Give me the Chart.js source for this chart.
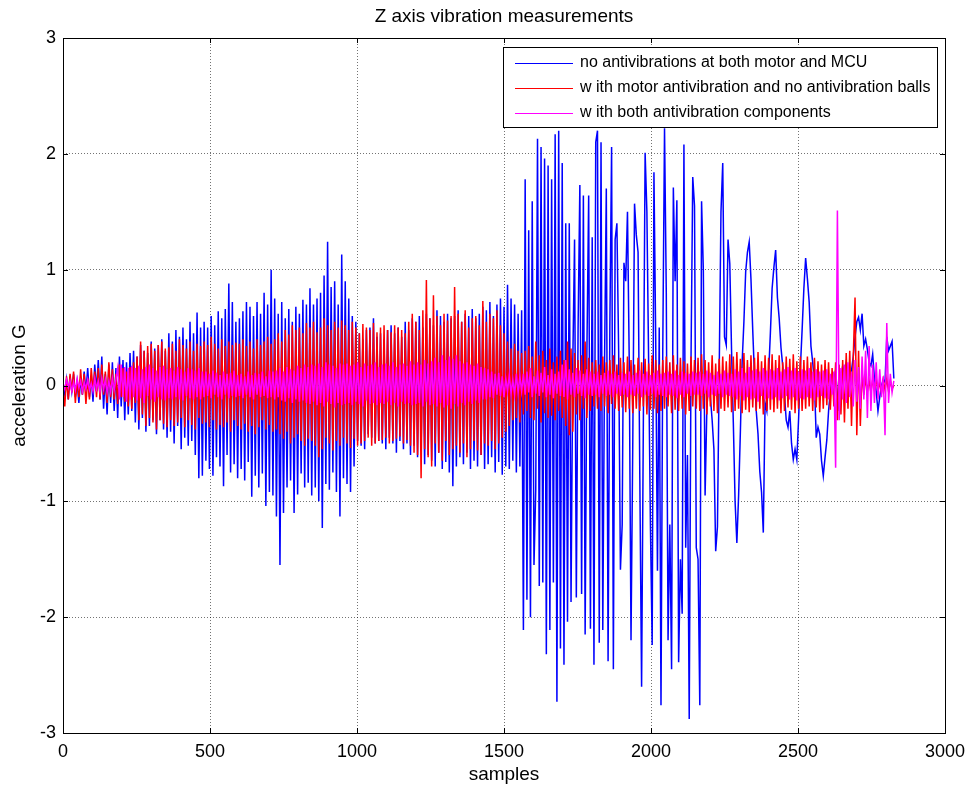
<!DOCTYPE html>
<html>
<head>
<meta charset="utf-8">
<title>Z axis vibration measurements</title>
<script src="https://cdn.jsdelivr.net/npm/chart.js@4.4.1/dist/chart.umd.min.js"></script>
<style>
  html, body { margin: 0; padding: 0; background: #fff; }
  #wrap { width: 971px; height: 787px; }
</style>
</head>
<body>
<div id="wrap"><canvas id="vib" width="971" height="787"></canvas></div>
<script>
// ── data: one value every SAMPLE_STEP samples ──
const SAMPLE_STEP = 6;

const X_TICKS = [0, 500, 1000, 1500, 2000, 2500, 3000];
const Y_TICKS = [-3, -2, -1, 0, 1, 2, 3];

const SERIES_LABELS = [
  'no antivibrations at both motor and MCU',
  'w ith motor antivibration and no antivibration balls',
  'w ith both antivibration components',
];

// no antivibrations at both motor and MCU
const blueG = [
  0.00,-0.08,0.05,-0.12,0.08,-0.05,0.10,-0.10,0.03,-0.15,0.06,-0.08,0.12,-0.06,0.15,-0.10,0.08,-0.14,0.18,-0.05,
  0.22,-0.12,0.25,-0.20,0.10,-0.25,0.18,-0.15,0.20,-0.22,0.15,-0.28,0.25,-0.18,0.22,-0.30,0.20,-0.25,0.28,-0.22,
  0.30,-0.32,0.25,-0.38,0.35,-0.28,0.30,-0.40,0.28,-0.35,0.38,-0.30,0.32,-0.42,0.35,-0.30,0.40,-0.38,0.30,-0.45,
  0.45,-0.40,0.38,-0.50,0.48,-0.35,0.42,-0.55,0.50,-0.45,0.40,-0.52,0.55,-0.48,0.45,-0.60,0.63,-0.80,0.50,-0.78,
  0.55,-0.65,0.50,-0.72,0.60,-0.78,0.52,-0.62,0.64,-0.70,0.58,-0.87,0.66,-0.60,0.88,-0.75,0.72,-0.68,0.55,-0.80,
  0.58,-0.72,0.64,-0.82,0.72,-0.66,0.68,-0.96,0.60,-0.78,0.72,-0.88,0.62,-0.76,0.80,-1.04,0.70,-0.92,1.00,-0.95,
  0.75,-1.13,0.62,-1.55,0.72,-1.10,0.58,-0.88,0.66,-0.82,0.55,-1.10,0.68,-0.94,0.62,-0.76,0.74,-0.88,0.70,-0.84,
  0.84,-0.95,0.70,-0.88,0.75,-1.00,0.80,-1.23,0.95,-0.85,1.24,-0.90,0.85,-0.75,0.90,-0.92,0.70,-1.13,1.13,-0.80,
  0.90,-0.85,0.75,-0.92,0.60,-0.70,0.55,-0.48,0.45,-0.52,0.40,-0.55,0.48,-0.42,0.50,-0.45,0.58,-0.50,0.42,-0.48,
  0.45,-0.50,0.40,-0.55,0.48,-0.45,0.52,-0.50,0.45,-0.58,0.50,-0.48,0.42,-0.55,0.55,-0.50,0.48,-0.60,0.58,-0.52,
  0.55,-0.62,0.60,-0.55,0.50,-0.68,0.62,-0.60,0.58,-0.65,0.52,-0.70,0.65,-0.58,0.60,-0.72,0.55,-0.66,0.62,-0.75,
  0.58,-0.87,0.60,-0.70,0.65,-0.62,0.55,-0.68,0.62,-0.58,0.60,-0.72,0.66,-0.65,0.58,-0.70,0.62,-0.60,0.68,-0.72,
  0.65,-0.68,0.72,-0.62,0.60,-0.75,0.70,-0.66,0.75,-0.77,0.68,-0.70,0.87,-0.72,0.75,-0.65,0.70,-0.75,0.62,-0.70,
  0.65,-2.11,1.78,-1.85,1.34,-2.00,1.59,-1.55,-0.90,2.13,-1.73,2.06,-1.70,1.96,-2.32,1.90,-2.11,1.78,-1.70,2.17,
  -2.73,2.20,-2.27,1.92,-2.41,1.40,-2.04,1.40,-1.87,0.20,1.26,-1.83,0.50,1.73,-1.80,1.64,-2.15,0.30,1.64,-2.10,
  1.28,-2.41,2.10,2.20,-2.22,2.10,-2.11,0.20,1.70,-2.38,0.50,2.06,-2.45,1.26,1.40,0.30,-1.59,-1.20,1.06,0.90,
  1.50,0.20,-2.20,-0.50,1.57,1.30,1.15,-0.80,-2.60,-0.30,2.01,1.50,0.20,-1.20,-2.24,1.84,0.40,-1.60,0.50,-2.76,
  0.30,2.22,0.80,-2.20,-1.20,-2.45,1.71,0.90,1.60,-2.39,-1.50,-1.97,2.08,-1.40,-0.60,-2.88,0.20,1.80,1.55,-1.40,
  -1.50,-2.76,1.59,1.00,-0.95,-0.20,0.05,-0.10,-0.30,-0.55,-1.43,-1.22,0.13,1.50,1.92,0.42,0.35,1.26,1.05,0.30,
  -0.32,-1.00,-1.36,-0.95,-0.40,0.20,0.55,0.98,1.15,1.24,0.92,0.48,0.08,-0.22,-0.42,-0.74,-0.92,-1.27,-0.15,-0.22,
  0.10,0.45,0.84,1.02,1.17,0.76,0.58,0.33,0.17,-0.08,-0.30,-0.36,-0.22,-0.50,-0.64,-0.55,-0.64,-0.29,0.15,0.48,
  0.84,1.10,0.92,0.72,0.34,0.20,0.02,-0.45,-0.36,-0.42,-0.65,-0.78,-0.62,-0.47,-0.22,-0.05,0.08,0.06,0.13,-0.10,
  -0.22,0.05,0.17,0.10,0.20,0.00,0.08,0.13,0.25,0.42,0.55,0.59,0.48,0.62,0.34,0.40,0.31,0.20,0.17,0.27,
  0.06,-0.05,-0.22,-0.10,0.00,0.05,0.03,0.42,0.30,0.34,0.38,0.06,
];

// with motor antivibration and no antivibration balls
const redG = [
  -0.05,-0.18,0.08,-0.12,0.10,-0.06,0.12,-0.15,0.05,-0.10,0.14,-0.08,0.10,-0.16,0.06,-0.12,0.15,-0.05,0.12,-0.10,
  0.15,-0.12,0.18,-0.08,0.12,-0.15,0.20,-0.10,0.14,-0.12,0.10,-0.16,0.18,-0.10,0.15,-0.14,0.12,-0.18,0.16,-0.20,
  0.20,-0.15,0.25,-0.30,0.38,-0.25,0.30,-0.35,0.34,-0.28,0.36,-0.32,0.30,-0.38,0.35,-0.30,0.38,-0.33,0.32,-0.36,
  0.33,-0.30,0.36,-0.35,0.30,-0.32,0.40,-0.28,0.35,-0.36,0.32,-0.30,0.38,-0.34,0.30,-0.38,0.36,-0.28,0.34,-0.33,
  0.38,-0.32,0.35,-0.36,0.42,-0.30,0.36,-0.38,0.32,-0.34,0.40,-0.36,0.34,-0.32,0.38,-0.40,0.35,-0.30,0.37,-0.35,
  0.36,-0.38,0.40,-0.33,0.34,-0.40,0.38,-0.35,0.32,-0.42,0.40,-0.36,0.35,-0.30,0.38,-0.38,0.42,-0.34,0.36,-0.40,
  0.40,-0.38,0.45,-0.42,0.38,-0.46,0.48,-0.40,0.44,-0.50,0.52,-0.45,0.48,-0.42,0.50,-0.48,0.45,-0.52,0.54,-0.46,
  0.50,-0.48,0.55,-0.52,0.46,-0.62,0.50,-0.55,0.58,-0.45,0.52,-0.50,0.48,-0.56,0.55,-0.48,0.50,-0.52,0.56,-0.45,
  0.52,-0.50,0.48,-0.54,0.55,-0.46,0.50,-0.52,0.45,-0.50,0.53,-0.48,0.50,-0.45,0.48,-0.52,0.54,-0.50,0.46,-0.48,
  0.50,-0.47,0.52,-0.45,0.48,-0.50,0.46,-0.48,0.52,-0.46,0.50,-0.44,0.48,-0.50,0.45,-0.47,0.55,-0.52,0.62,-0.58,
  0.55,-0.60,0.48,-0.80,0.65,-0.55,0.91,-0.62,0.58,-0.70,0.78,-0.50,0.60,-0.58,0.52,-0.65,0.62,-0.48,0.56,-0.60,
  0.60,-0.55,0.85,-0.52,0.62,-0.58,0.55,-0.50,0.65,-0.62,0.50,-0.55,0.58,-0.48,0.60,-0.56,0.52,-0.60,0.73,-0.50,
  0.55,-0.52,0.62,-0.48,0.58,-0.55,0.65,-0.50,0.52,-0.45,0.45,-0.40,0.38,-0.35,0.32,-0.30,0.36,-0.28,0.30,-0.32,
  0.28,-0.25,0.30,-0.22,0.34,-0.28,0.25,-0.30,0.38,-0.20,0.26,-0.32,0.30,-0.24,0.22,-0.28,0.32,-0.26,0.20,-0.30,
  0.25,-0.22,0.30,-0.28,0.22,-0.35,0.38,-0.43,0.32,-0.40,0.28,-0.25,0.22,-0.30,0.26,-0.20,0.38,-0.28,0.24,-0.22,
  0.20,-0.18,0.22,-0.20,0.18,-0.22,0.25,-0.18,0.20,-0.24,0.22,-0.16,0.26,-0.20,0.18,-0.22,0.24,-0.19,0.20,-0.23,
  0.25,-0.20,0.22,-0.24,0.18,-0.20,0.24,-0.22,0.20,-0.18,0.23,-0.25,0.19,-0.21,0.26,-0.20,0.22,-0.24,0.18,-0.22,
  0.22,-0.20,0.25,-0.18,0.20,-0.24,0.26,-0.21,0.18,-0.22,0.24,-0.20,0.21,-0.25,0.19,-0.22,0.25,-0.18,0.22,-0.20,
  0.24,-0.22,0.27,-0.20,0.22,-0.25,0.20,-0.18,0.26,-0.22,0.19,-0.24,0.23,-0.20,0.25,-0.22,0.21,-0.19,0.27,-0.23,
  0.25,-0.22,0.29,-0.20,0.23,-0.24,0.28,-0.21,0.22,-0.23,0.26,-0.19,0.24,-0.22,0.29,-0.20,0.21,-0.25,0.26,-0.22,
  0.24,-0.21,0.27,-0.23,0.22,-0.20,0.26,-0.24,0.20,-0.22,0.25,-0.19,0.23,-0.21,0.27,-0.24,0.21,-0.20,0.25,-0.22,
  0.22,-0.20,0.25,-0.18,0.20,-0.22,0.24,-0.19,0.21,-0.23,0.18,-0.20,0.22,-0.17,0.20,-0.21,0.15,-0.18,0.20,-0.30,
  0.18,-0.25,0.22,-0.32,0.28,-0.20,0.30,-0.35,0.25,0.76,-0.43,0.30,-0.35,0.12,-0.08,0.06,-0.05,0.04,-0.06,0.05,
  -0.04,0.06,-0.05,0.03,-0.06,0.05,-0.04,0.06,-0.05,0.04,-0.03,0.00,
];

// with both antivibration components
const magentaG = [
  0.02,-0.03,0.05,-0.02,0.04,-0.05,0.03,-0.04,0.06,-0.02,0.04,-0.05,0.03,-0.03,0.05,-0.04,0.02,-0.05,0.06,-0.03,
  0.04,-0.05,0.06,-0.03,0.05,-0.06,0.04,-0.05,0.06,-0.04,0.05,0.15,-0.12,0.18,-0.10,0.16,-0.14,0.15,-0.12,0.17,
  -0.10,0.15,-0.13,0.17,-0.11,0.14,-0.15,0.16,-0.09,0.18,-0.12,0.15,-0.14,0.13,-0.10,0.16,-0.12,0.17,-0.13,0.14,
  -0.11,0.15,-0.12,0.13,-0.10,0.16,-0.12,0.14,-0.13,0.12,-0.09,0.15,-0.11,0.14,-0.12,0.13,-0.10,0.15,-0.12,0.12,
  -0.10,0.12,-0.09,0.10,-0.11,0.13,-0.08,0.11,-0.10,0.09,-0.12,0.12,-0.08,0.10,-0.11,0.11,-0.09,0.13,-0.10,0.09,
  -0.09,0.10,-0.11,0.08,-0.08,0.12,-0.10,0.09,-0.12,0.11,-0.08,0.10,-0.10,0.12,-0.09,0.08,-0.11,0.13,-0.10,0.12,
  -0.12,0.13,-0.10,0.15,-0.13,0.12,-0.14,0.16,-0.11,0.14,-0.15,0.13,-0.12,0.17,-0.14,0.15,-0.13,0.18,-0.15,0.16,
  -0.16,0.18,-0.14,0.17,-0.17,0.19,-0.15,0.16,-0.18,0.20,-0.14,0.18,-0.16,0.17,-0.19,0.15,-0.15,0.19,-0.17,0.18,
  -0.16,0.19,-0.15,0.17,-0.17,0.18,-0.14,0.20,-0.16,0.16,-0.18,0.19,-0.13,0.17,-0.16,0.18,-0.15,0.20,-0.17,0.16,
  -0.15,0.18,-0.16,0.19,-0.14,0.17,-0.17,0.20,-0.15,0.16,-0.18,0.18,-0.14,0.19,-0.16,0.17,-0.15,0.21,-0.17,0.18,
  -0.16,0.20,-0.15,0.18,-0.18,0.22,-0.14,0.19,-0.17,0.21,-0.16,0.24,-0.18,0.20,-0.15,0.26,-0.19,0.22,-0.17,0.25,
  -0.20,0.23,-0.16,0.26,-0.18,0.21,-0.15,0.19,-0.17,0.20,-0.14,0.18,-0.16,0.17,-0.13,0.19,-0.15,0.16,-0.12,0.15,
  -0.12,0.14,-0.10,0.12,-0.11,0.10,-0.08,0.11,-0.09,0.08,-0.10,0.06,-0.05,0.09,-0.07,0.05,-0.08,0.10,-0.06,0.08,
  -0.05,0.10,-0.08,0.12,-0.06,0.15,-0.10,0.08,-0.07,0.13,-0.09,0.11,-0.06,0.16,-0.10,0.09,-0.08,0.14,-0.11,0.10,
  -0.07,0.12,-0.09,0.18,-0.10,0.22,-0.12,0.14,-0.08,0.11,-0.10,0.15,-0.07,0.13,-0.09,0.10,-0.11,0.14,-0.08,0.12,
  -0.09,0.10,-0.08,0.12,-0.10,0.09,-0.07,0.11,-0.09,0.13,-0.08,0.10,-0.10,0.12,-0.07,0.09,-0.09,0.11,-0.08,0.10,
  -0.10,0.12,-0.08,0.09,-0.09,0.11,-0.07,0.13,-0.10,0.10,-0.08,0.12,-0.09,0.09,-0.07,0.11,-0.10,0.13,-0.08,0.10,
  -0.09,0.11,-0.10,0.12,-0.08,0.10,-0.09,0.13,-0.11,0.09,-0.08,0.12,-0.10,0.11,-0.07,0.10,-0.09,0.12,-0.08,0.11,
  -0.08,0.12,-0.09,0.10,-0.07,0.13,-0.10,0.11,-0.08,0.09,-0.09,0.12,-0.07,0.10,-0.10,0.13,-0.08,0.11,-0.09,0.10,
  -0.10,0.14,-0.12,0.12,-0.09,0.15,-0.13,0.11,-0.10,0.16,-0.12,0.13,-0.11,0.14,-0.14,0.12,-0.09,0.15,-0.12,0.13,
  -0.11,0.14,-0.12,0.13,-0.10,0.15,-0.13,0.12,-0.11,0.14,-0.09,0.16,-0.12,0.13,-0.10,0.15,-0.13,0.12,-0.11,0.14,
  -0.12,0.13,-0.10,0.15,-0.11,0.12,-0.13,0.14,-0.10,0.12,-0.09,0.13,-0.11,0.14,-0.12,0.10,-0.08,0.12,-0.71,1.51,
  -0.30,0.15,-0.12,0.18,-0.15,0.20,-0.10,0.12,-0.18,0.22,-0.14,0.16,-0.20,0.25,-0.12,0.30,-0.28,0.34,-0.22,0.18,
  -0.15,0.20,-0.12,0.14,-0.10,0.08,-0.43,0.54,-0.15,0.10,-0.06,0.04,
];

// ── look ──
const COLORS = ['#0000ff', '#ff0000', '#ff00ff'];
const FONT = '"Liberation Sans", Arial, Helvetica, sans-serif';
const GRID = 'rgba(0,0,0,0.55)';
const TICK_LEN = 5;
const LINE_W = 1.5;

const toPoints = vals => vals.map((v, i) => ({ x: i * SAMPLE_STEP, y: v }));

// MATLAB-ish box, inward ticks, legend and title (drawn over the data)
const matlabAxes = {
  id: 'matlabAxes',
  afterDatasetsDraw(chart) {
    const { ctx, chartArea: a, scales: { x, y } } = chart;
    ctx.save();
    ctx.strokeStyle = '#000';
    ctx.lineWidth = 1;

    ctx.beginPath();
    X_TICKS.forEach(v => {
      const px = Math.round(x.getPixelForValue(v)) + 0.5;
      ctx.moveTo(px, a.bottom); ctx.lineTo(px, a.bottom - TICK_LEN);
      ctx.moveTo(px, a.top);    ctx.lineTo(px, a.top + TICK_LEN);
    });
    Y_TICKS.forEach(v => {
      const py = Math.round(y.getPixelForValue(v)) + 0.5;
      ctx.moveTo(a.left, py);  ctx.lineTo(a.left + TICK_LEN, py);
      ctx.moveTo(a.right, py); ctx.lineTo(a.right - TICK_LEN, py);
    });
    ctx.stroke();
    ctx.strokeRect(Math.round(a.left) + 0.5, Math.round(a.top) + 0.5,
                   Math.round(a.right - a.left), Math.round(a.bottom - a.top));

    // legend box, top right inside the axes
    const bx = Math.round(a.right) - 442, by = Math.round(a.top) + 9;
    const bw = 434, bh = 80;
    ctx.fillStyle = '#fff';
    ctx.fillRect(bx, by, bw, bh);
    ctx.strokeRect(bx + 0.5, by + 0.5, bw, bh);
    ctx.font = '16px ' + FONT;
    ctx.textBaseline = 'middle';
    ctx.textAlign = 'left';
    SERIES_LABELS.forEach((label, i) => {
      const ry = by + 16 + i * 25;
      ctx.strokeStyle = COLORS[i];
      ctx.beginPath();
      ctx.moveTo(bx + 12, ry + 0.5); ctx.lineTo(bx + 70, ry + 0.5);
      ctx.stroke();
      ctx.fillStyle = '#000';
      ctx.fillText(label, bx + 77, ry);
    });

    // title
    ctx.font = '19px ' + FONT;
    ctx.textAlign = 'center';
    ctx.fillStyle = '#000';
    ctx.fillText('Z axis vibration measurements', (a.left + a.right) / 2, 17);
    ctx.restore();
  }
};

new Chart(document.getElementById('vib'), {
  type: 'line',
  data: {
    datasets: [blueG, redG, magentaG].map((vals, i) => ({
      label: SERIES_LABELS[i],
      data: toPoints(vals),
      borderColor: COLORS[i],
      borderWidth: LINE_W,
      pointRadius: 0,
      tension: 0,
      fill: false,
      order: 3 - i,   // later series on top, as in the original
    })),
  },
  options: {
    responsive: false,
    animation: false,
    devicePixelRatio: 1,
    layout: { padding: { top: 38, right: 26, left: 0, bottom: 0 } },
    plugins: {
      legend: { display: false },
      title: { display: false },
      tooltip: { enabled: false },
    },
    scales: {
      x: {
        type: 'linear',
        min: 0,
        max: 3000,
        afterBuildTicks: s => { s.ticks = X_TICKS.map(v => ({ value: v })); },
        afterFit: s => { s.height = 54; s.paddingLeft = 0; s.paddingRight = 0; },
        grid: { color: GRID, drawTicks: false, lineWidth: 1 },
        border: { display: false, dash: [1, 2] },
        ticks: { color: '#000', font: { family: FONT, size: 18 }, padding: 8, maxRotation: 0, autoSkip: false,
                 callback: v => String(v) },
        title: { display: true, text: 'samples', color: '#000', font: { family: FONT, size: 19 }, padding: { top: 0, bottom: 1 } },
      },
      y: {
        type: 'linear',
        min: -3,
        max: 3,
        afterBuildTicks: s => { s.ticks = Y_TICKS.map(v => ({ value: v })); },
        afterFit: s => { s.width = 63; s.paddingTop = 0; s.paddingBottom = 0; },
        grid: { color: GRID, drawTicks: false, lineWidth: 1 },
        border: { display: false, dash: [1, 2] },
        ticks: { color: '#000', font: { family: FONT, size: 18 }, padding: 7, autoSkip: false,
                 callback: v => String(v) },
        title: { display: true, text: 'acceleration G', color: '#000', font: { family: FONT, size: 19 }, padding: { top: 8, bottom: 0 } },
      },
    },
  },
  plugins: [matlabAxes],
});
</script>
</body>
</html>
